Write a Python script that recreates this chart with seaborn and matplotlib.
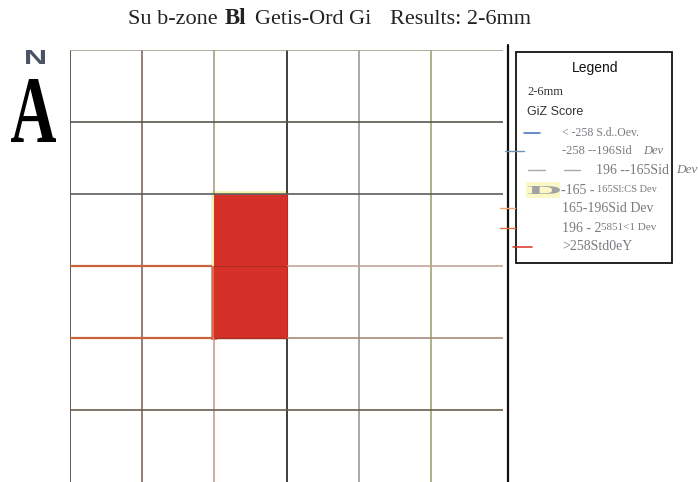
import numpy as np
import pandas as pd
import seaborn as sns
import matplotlib
matplotlib.use("Agg")
import matplotlib.pyplot as plt
from matplotlib.colors import ListedColormap, BoundaryNorm
from matplotlib.textpath import TextPath
from matplotlib.patches import PathPatch, Rectangle
from matplotlib.font_manager import FontProperties
from matplotlib.transforms import Affine2D

# ---------------- data ----------------
n_rows = 6
n_cols = 6
hot_rows = [2, 3]          # grid row (from top) of significant cells
hot_cols = [2, 2]          # grid column of significant cells
hot_z = [3.1, 2.9]         # Gi z-scores (> 2.58 Std. Dev.)

class_breaks = [-10, -2.58, -1.96, -1.65, 1.65, 1.96, 2.58, 10]
class_colors = ["#3a6db5", "#7391b3", "#aaaaaa", "#fbf8c8",
                "#f2a372", "#e2703f", "#d63128"]
legend_labels = ["< -258 S.d..Oev.", "-258 --196Sid ", "196 --165Sid",
                 "-165 - ", "165-196Sid Dev", "196 - 2", ">258Std0eY"]

# ---------------- figure ----------------
sns.set_theme(style="white")
plt.rcParams["font.family"] = ["Liberation Serif", "DejaVu Serif"]

W, H = 698, 482
fig = plt.figure(figsize=(W / 100, H / 100), dpi=100)
fig.patch.set_facecolor("white")

# grid axes: x 70..503 px, y 50..482 px
ax = fig.add_axes([70 / W, 0, 433 / W, 432 / H])
grid = np.full((n_rows, n_cols), np.nan)
for r, c, z in zip(hot_rows, hot_cols, hot_z):
    grid[r, c] = z
df = pd.DataFrame(grid)

# highlight edges (under the cells)
ax.plot([1.96, 3.02], [2.0, 2.0], color="#f8f4a6", lw=4, zorder=0.5, solid_capstyle="butt")
ax.plot([2.0, 2.0], [1.97, 3.0], color="#f8f4a6", lw=4, zorder=0.5, solid_capstyle="butt")
ax.plot([2.0, 2.0], [3.0, 4.03], color="#e66a46", lw=4, zorder=0.5, solid_capstyle="butt")

sns.heatmap(df, ax=ax, cmap=ListedColormap(class_colors),
            norm=BoundaryNorm(class_breaks, len(class_colors)),
            cbar=False, xticklabels=False, yticklabels=False,
            linewidths=0)
ax.set_xlim(0, 6)
ax.set_ylim(6, 0)
for s in ax.spines.values():
    s.set_visible(False)

lw = 1.2
# vertical grid lines
vcols = ["#3e3e3e", "#7a6a60", "#a3a283", "#1e1e1e", "#9a9a9a", "#a3a274"]
for x, col in zip(range(6), vcols):
    if x == 2:
        ax.vlines(x, 0, 2, color=col, lw=lw, zorder=3)
        ax.vlines(x, 4, 6, color="#c8a08e", lw=lw, zorder=3)
    elif x == 3:
        ax.vlines(x, 0, 2, color=col, lw=lw, zorder=3)
        ax.vlines(x, 4, 6, color=col, lw=lw, zorder=3)
        ax.vlines(x, 2, 4, color="#8a4030", lw=0.8, zorder=3)
    else:
        ax.vlines(x, 0, 6, color=col, lw=lw, zorder=3)

# horizontal grid lines
ax.hlines(0, 0, 6, color="#a2a288", lw=lw, zorder=3)
ax.hlines(1, 0, 6, color="#58574f", lw=lw, zorder=3)
ax.hlines(2, 0, 6, color="#5e5e5e", lw=lw, zorder=3)
ax.hlines(3, 0, 1.97, color="#c8643f", lw=1.6, zorder=3)
ax.hlines(3, 3, 6, color="#c4a49a", lw=lw, zorder=3)
ax.hlines(3, 2, 3, color="#b02a22", lw=0.9, zorder=3)
ax.hlines(4, 0, 1.97, color="#c8643f", lw=1.6, zorder=3)
ax.hlines(4, 3, 6, color="#a88a7c", lw=lw, zorder=3)
ax.hlines(4, 2, 3, color="#a03020", lw=1.0, zorder=3)
ax.hlines(5, 0, 6, color="#6b5d4b", lw=lw, zorder=3)

# ---------------- overlay in pixel coordinates ----------------
ov = fig.add_axes([0, 0, 1, 1], zorder=5)
ov.set_xlim(0, W)
ov.set_ylim(H, 0)
ov.axis("off")
ov.patch.set_alpha(0)

SERIF = ["Liberation Serif", "DejaVu Serif"]
SANS = ["Liberation Sans", "DejaVu Sans"]

# title
tc = "#222222"
ov.text(128, 19, "Su b-zone", family=SERIF, fontsize=16, color=tc, va="center", ha="left")
ov.text(225, 18, "Bl", family=SERIF, fontsize=16.5, weight="bold", color=tc, va="center", ha="left")
ov.text(255, 19, "Getis-Ord Gi", family=SERIF, fontsize=16, color=tc, va="center", ha="left")
ov.text(390, 19, "Results: 2-6mm", family=SERIF, fontsize=16, color=tc, va="center", ha="left")


def glyph(ch, x0, x1, y0, y1, color, weight="bold", family="Liberation Serif"):
    tp = TextPath((0, 0), ch, size=1, prop=FontProperties(family=family, weight=weight))
    ext = tp.get_extents()
    sx = (x1 - x0) / ext.width
    sy = (y1 - y0) / ext.height
    tr = Affine2D().translate(-ext.x0, -ext.y0).scale(sx, -sy).translate(x0, y1)
    ov.add_patch(PathPatch(tr.transform_path(tp), color=color, lw=0))


# north arrow
glyph("N", 26, 45, 50, 64, "#4b5365", weight="bold", family="Liberation Sans")
glyph("A", 11, 56, 79, 142, "#000000")

# right separator line
ov.plot([508, 508], [45, 482], color="#111111", lw=1.6)

# legend box
ov.add_patch(Rectangle((516, 52), 156, 211, fill=False, ec="#111111", lw=1.3))
ov.text(595, 68, "Legend", family=SANS, fontsize=10, color="#111111", ha="center", va="center")
ov.text(527, 92, "2-6mm", family=SERIF, fontsize=9, color="#333333", ha="left", va="center")
ov.text(527, 112, "GiZ Score", family=SANS, fontsize=9, color="#333333", ha="left", va="center")

gray = "#7a7a80"
# entry 1
ov.plot([524, 540], [133, 133], color=class_colors[0], lw=1.1)
ov.text(562, 133, legend_labels[0], family=SERIF, fontsize=8.5, color=gray, va="center")
# entry 2
ov.plot([505, 524], [151, 151], color=class_colors[1], lw=1.0)
ov.text(562, 151, legend_labels[1], family=SERIF, fontsize=9, color=gray, va="center")
ov.text(643, 151, "Dev", family=SERIF, fontsize=9, style="italic", color=gray, va="center")
# entry 3
ov.plot([528, 545], [170, 170], color=class_colors[2], lw=1.0)
ov.plot([564, 580], [170, 170], color=class_colors[2], lw=1.0)
ov.text(596, 170, legend_labels[2], family=SERIF, fontsize=10, color=gray, va="center")
ov.text(676, 170, "Dev", family=SERIF, fontsize=9.5, style="italic", color=gray, va="center")
# entry 4
ov.add_patch(Rectangle((526, 182), 34, 16, color=class_colors[3], lw=0))
glyph("D", 528, 560, 186, 194, "#a2a2a2")
ov.text(561, 190, legend_labels[3], family=SERIF, fontsize=10, color=gray, va="center")
ov.text(597, 190, "165Sl:CS Dev", family=SERIF, fontsize=7.5, color=gray, va="center")
# entry 5
ov.plot([500, 515], [208, 208], color=class_colors[4], lw=1.0)
ov.text(562, 208, legend_labels[4], family=SERIF, fontsize=10, color=gray, va="center")
# entry 6
ov.plot([500, 515], [228, 228], color=class_colors[5], lw=1.0)
ov.text(562, 228, legend_labels[5], family=SERIF, fontsize=10, color=gray, va="center")
ov.text(601, 228, "5851<1 Dev", family=SERIF, fontsize=8, color=gray, va="center")
# entry 7
ov.plot([513, 532], [247, 247], color=class_colors[6], lw=1.1)
ov.text(562, 247, legend_labels[6], family=SERIF, fontsize=10, color=gray, va="center")

fig.savefig("out.png", dpi=100, facecolor="white")
